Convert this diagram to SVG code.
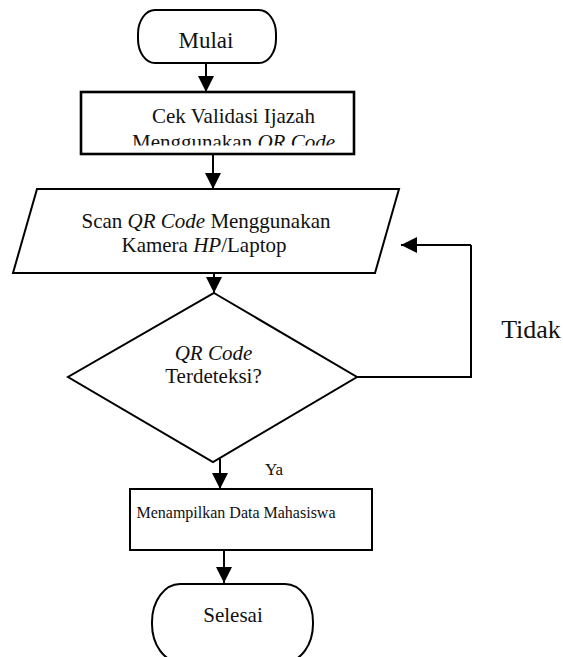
<svg xmlns="http://www.w3.org/2000/svg" width="563" height="657" viewBox="0 0 563 657">
  <style>
    .shape { fill: #ffffff; stroke: #000000; stroke-width: 2; }
    .thick { stroke-width: 2.6; }
    .conn { fill: none; stroke: #000000; stroke-width: 2; }
    .t { font-family: "Liberation Serif", "Times New Roman", serif; fill: #111111; text-anchor: middle; }
    .i { font-style: italic; }
  </style>
  <defs>
    <marker id="arrow" viewBox="0 0 16 16" refX="16" refY="8" markerWidth="16" markerHeight="16" markerUnits="userSpaceOnUse" orient="auto">
      <path d="M0,0 L16,8 L0,16 z" fill="#000000"/>
    </marker>
    <clipPath id="clipBox1">
      <rect x="82" y="93" width="271" height="52.5"/>
    </clipPath>
  </defs>
  <rect width="563" height="657" fill="#ffffff"/>

  <g id="connectors">
    <line class="conn" x1="206" y1="63" x2="206" y2="92" marker-end="url(#arrow)"/>
    <line class="conn" x1="213" y1="154" x2="213" y2="189" marker-end="url(#arrow)"/>
    <line class="conn" x1="214" y1="273" x2="214" y2="293" marker-end="url(#arrow)"/>
    <line class="conn" x1="220" y1="459" x2="220" y2="489" marker-end="url(#arrow)"/>
    <line class="conn" x1="224" y1="550" x2="224" y2="583" marker-end="url(#arrow)"/>
    <polyline class="conn" points="357,377 471,377 471,245"/>
    <line class="conn" x1="471" y1="245" x2="401" y2="245" stroke-width="1.6" marker-end="url(#arrow)"/>
  </g>

  <g id="mulai">
    <rect class="shape" x="138" y="10" width="138" height="53" rx="17" ry="24"/>
    <text class="t" x="206" y="48" font-size="23">Mulai</text>
  </g>

  <g id="cek-validasi">
    <rect class="shape thick" x="81" y="92" width="273" height="62"/>
    <g clip-path="url(#clipBox1)">
      <text class="t" x="233.5" y="123" font-size="21">Cek Validasi Ijazah</text>
      <text class="t" x="233.5" y="149" font-size="21">Menggunakan <tspan class="i">QR Code</tspan></text>
    </g>
  </g>

  <g id="scan">
    <polygon class="shape" points="37,189 399,189 375,273 13,273"/>
    <text class="t" x="206" y="228" font-size="21">Scan <tspan class="i">QR Code</tspan> Menggunakan</text>
    <text class="t" x="204" y="252" font-size="21">Kamera <tspan class="i">HP</tspan>/Laptop</text>
  </g>

  <g id="terdeteksi">
    <polygon class="shape" points="214,293 357,377 213,462 68,377"/>
    <text class="t i" x="213.5" y="360" font-size="21">QR Code</text>
    <text class="t" x="213.5" y="383" font-size="21">Terdeteksi?</text>
  </g>

  <g id="label-tidak">
    <text class="t" x="531" y="338" font-size="26">Tidak</text>
  </g>
  <g id="label-ya">
    <text class="t" x="274" y="475" font-size="17">Ya</text>
  </g>

  <g id="menampilkan">
    <rect class="shape" x="130" y="489" width="242" height="61"/>
    <text class="t" x="236" y="518" font-size="16">Menampilkan Data Mahasiswa</text>
  </g>

  <g id="selesai">
    <rect class="shape" x="152" y="584" width="161" height="78" rx="28" ry="38"/>
    <text class="t" x="233" y="622" font-size="21">Selesai</text>
  </g>
</svg>
